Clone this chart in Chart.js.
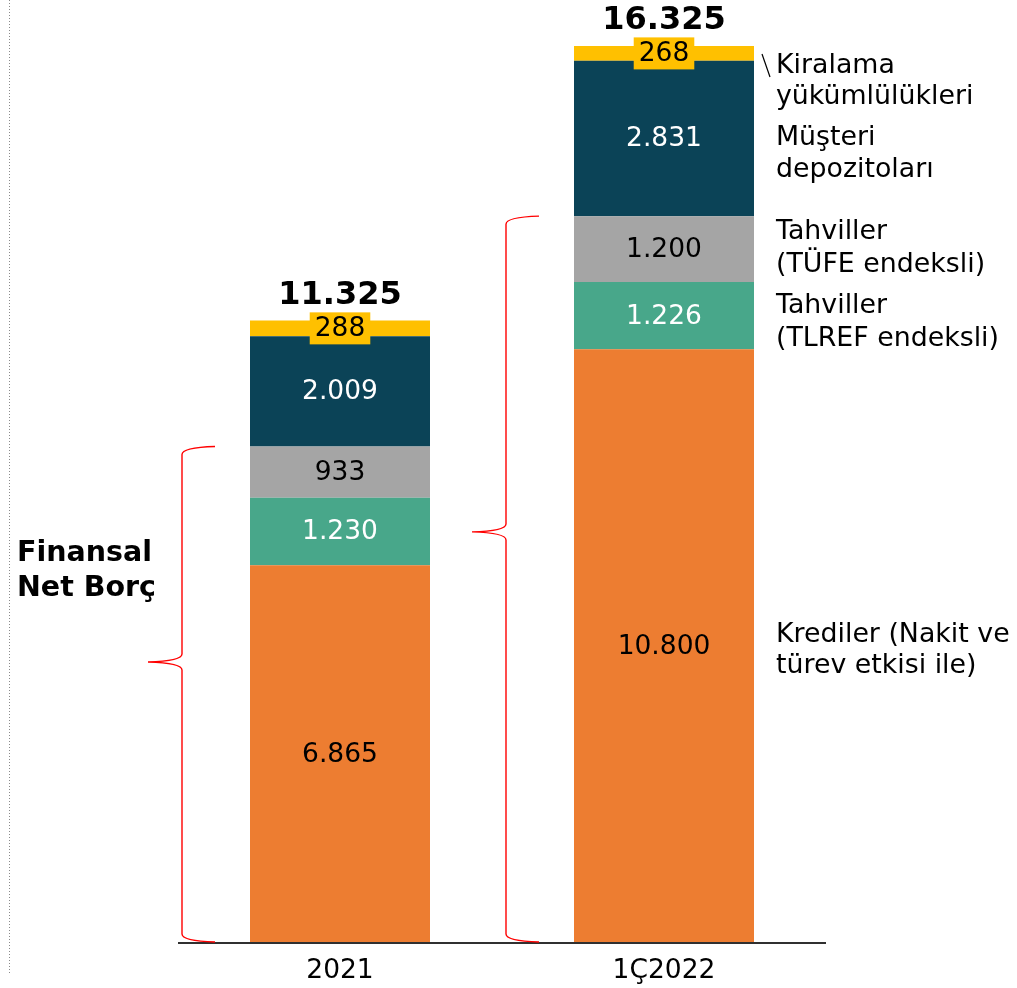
<!DOCTYPE html>
<html>
<head>
<meta charset="utf-8">
<script src="https://cdn.jsdelivr.net/npm/chart.js@4/dist/chart.umd.min.js"></script>
<style>
    body { margin: 0; background: #fff; }
    #wrap { width: 1017px; height: 988px; }
</style>
</head>
<body>
<div id="wrap"><canvas id="chart" width="1017" height="988"></canvas></div>
<script>
const categories = ['2021', '1Ç2022'];
const krediler = [6865, 10800];
const tahvillerTlref = [1230, 1226];
const tahvillerTufe = [933, 1200];
const musteriDepozito = [2009, 2831];
const kiralama = [288, 268];
const totals = [11325, 16325];

const seriesNames = ['Krediler (Nakit ve türev etkisi ile)', 'Tahviller (TLREF endeksli)', 'Tahviller (TÜFE endeksli)', 'Müşteri depozitoları', 'Kiralama yükümlülükleri'];
const seriesColors = ['#ED7D31', '#48A78A', '#A5A5A5', '#0B4357', '#FFC000'];
const labelColors = ['#000', '#fff', '#000', '#fff', '#000'];

const FONT = '"DejaVu Sans", Verdana, sans-serif';

function fmt(v) {
    return String(v).replace(/\B(?=(\d{3})+(?!\d))/g, '.');
}

// brace spanning the "Finansal Net Borç" segments (first three series)
function drawBrace(ctx, xTip, xLine, xEnd, top, bottom, tipY) {
    const r = 8;
    ctx.beginPath();
    ctx.moveTo(xEnd, top);
    ctx.quadraticCurveTo(xLine, top + 1, xLine, top + r);
    ctx.lineTo(xLine, tipY - r);
    ctx.quadraticCurveTo(xLine, tipY - 1, xTip, tipY);
    ctx.quadraticCurveTo(xLine, tipY + 1, xLine, tipY + r);
    ctx.lineTo(xLine, bottom - r);
    ctx.quadraticCurveTo(xLine, bottom - 1, xEnd, bottom);
    ctx.stroke();
}

const annotations = {
    id: 'annotations',
    afterDatasetsDraw(chart) {
        const ctx = chart.ctx;
        const area = chart.chartArea;
        const yScale = chart.scales.y;
        const xScale = chart.scales.x;
        ctx.save();

        // dotted line on the far left
        ctx.strokeStyle = '#8a8a8a';
        ctx.lineWidth = 1;
        ctx.setLineDash([1, 2]);
        ctx.beginPath();
        ctx.moveTo(9.5, 0);
        ctx.lineTo(9.5, 975);
        ctx.stroke();
        ctx.setLineDash([]);

        // axis line
        ctx.strokeStyle = '#303030';
        ctx.lineWidth = 2;
        ctx.beginPath();
        ctx.moveTo(area.left, area.bottom + 1);
        ctx.lineTo(area.right, area.bottom + 1);
        ctx.stroke();

        // values inside segments
        ctx.textAlign = 'center';
        ctx.textBaseline = 'middle';
        ctx.font = '26.5px ' + FONT;
        chart.data.datasets.forEach((ds, di) => {
            const meta = chart.getDatasetMeta(di);
            meta.data.forEach((bar, i) => {
                const cy = (bar.y + bar.base) / 2;
                const txt = fmt(ds.data[i]);
                if (di === 4) {
                    const w = ctx.measureText(txt).width + 10;
                    ctx.fillStyle = seriesColors[4];
                    ctx.fillRect(bar.x - w / 2, cy - 16, w, 32);
                }
                ctx.fillStyle = labelColors[di];
                ctx.fillText(txt, bar.x, cy + 1);
            });
        });

        // totals
        ctx.font = 'bold 32px ' + FONT;
        ctx.fillStyle = '#000';
        totals.forEach((t, i) => {
            const x = xScale.getPixelForValue(i);
            ctx.fillText(fmt(t), x, yScale.getPixelForValue(t) - 25);
        });

        // category labels
        ctx.font = '26.5px ' + FONT;
        categories.forEach((c, i) => {
            ctx.fillText(c, xScale.getPixelForValue(i), area.bottom + 29);
        });

        // braces
        ctx.strokeStyle = '#FF0000';
        ctx.lineWidth = 1.4;
        categories.forEach((c, i) => {
            const netDebt = krediler[i] + tahvillerTlref[i] + tahvillerTufe[i];
            const top = yScale.getPixelForValue(netDebt);
            const bottom = area.bottom;
            const tipY = top + (bottom - top) * 0.435;
            const barLeft = chart.getDatasetMeta(0).data[i].x - 90;
            drawBrace(ctx, barLeft - 102, barLeft - 68, barLeft - 35, top, bottom, tipY);
        });

        // Finansal Net Borç
        ctx.textAlign = 'left';
        ctx.font = 'bold 28.5px ' + FONT;
        ctx.fillText('Finansal', 17, 554);
        ctx.fillText('Net Borç', 17, 589);

        // right side labels
        ctx.font = '26.8px ' + FONT;
        const right = [
            ['Kiralama', 66], ['yükümlülükleri', 97],
            ['Müşteri', 138], ['depozitoları', 170],
            ['Tahviller', 232], ['(TÜFE endeksli)', 265],
            ['Tahviller', 306], ['(TLREF endeksli)', 339],
            ['Krediler (Nakit ve', 635], ['türev etkisi ile)', 666]
        ];
        right.forEach(([t, y]) => ctx.fillText(t, 776, y));

        // leader for Kiralama
        ctx.strokeStyle = '#000';
        ctx.lineWidth = 1.2;
        ctx.beginPath();
        ctx.moveTo(762, 54);
        ctx.lineTo(770, 77);
        ctx.stroke();

        ctx.restore();
    }
};

const datasetValues = [krediler, tahvillerTlref, tahvillerTufe, musteriDepozito, kiralama];

new Chart(document.getElementById('chart'), {
    type: 'bar',
    data: {
        labels: categories,
        datasets: datasetValues.map((values, i) => ({
            label: seriesNames[i],
            data: values,
            backgroundColor: seriesColors[i],
            borderWidth: 0,
            barPercentage: 1,
            categoryPercentage: 180 / 324
        }))
    },
    options: {
        responsive: false,
        animation: false,
        layout: { padding: { left: 178, right: 191, top: 9, bottom: 46 } },
        plugins: {
            legend: { display: false },
            tooltip: { enabled: false }
        },
        scales: {
            x: { stacked: true, display: false },
            y: { stacked: true, display: false, min: 0, max: 17000 }
        }
    },
    plugins: [annotations]
});
</script>
</body>
</html>
